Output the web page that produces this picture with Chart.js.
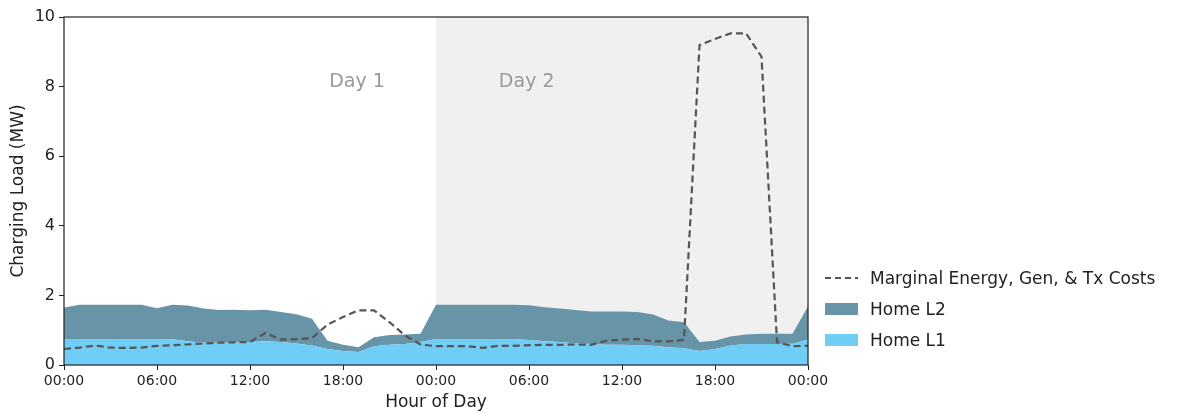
<!DOCTYPE html>
<html>
<head>
<meta charset="utf-8">
<script src="https://cdn.jsdelivr.net/npm/chart.js@4/dist/chart.umd.min.js"></script>
<style>
  html, body { margin: 0; padding: 0; background: #fff; }
  #wrap { position: relative; width: 1192px; height: 414px; }
  #legend { position: absolute; left: 825px; top: 262px; font-family: "DejaVu Sans"; font-size: 17px; color: #222; }
  .row { display: flex; align-items: center; height: 31px; white-space: nowrap; }
  .sym { width: 33px; margin-right: 12px; display: flex; align-items: center; }
</style>
</head>
<body>
<div id="wrap">
  <canvas id="c" width="1192" height="414"></canvas>
  <div id="legend"></div>
</div>
<script>
// Hour index across the two days (0 = Day 1 00:00, 48 = Day 3 00:00)
const hours = [0,1,2,3,4,5,6,7,8,9,10,11,12,13,14,15,16,17,18,19,20,21,22,23,24,
               25,26,27,28,29,30,31,32,33,34,35,36,37,38,39,40,41,42,43,44,45,46,47,48];

// Home L1 charging load (MW)
const homeL1 = [0.75,0.75,0.75,0.75,0.75,0.75,0.75,0.74,0.68,0.64,0.64,0.64,0.66,0.68,0.66,0.62,0.56,0.46,0.40,0.37,0.54,0.58,0.60,0.66,0.75,
                0.75,0.75,0.75,0.75,0.75,0.72,0.68,0.66,0.62,0.60,0.58,0.58,0.57,0.55,0.51,0.48,0.40,0.46,0.56,0.60,0.60,0.60,0.61,0.73];

// Home L2 charging load (MW), stacked on top of L1
const homeL2 = [0.90,0.98,0.98,0.98,0.98,0.98,0.88,0.99,1.03,0.98,0.94,0.95,0.91,0.91,0.86,0.84,0.77,0.24,0.18,0.14,0.26,0.28,0.28,0.24,0.98,
                0.98,0.98,0.98,0.98,0.98,1.00,0.98,0.96,0.96,0.94,0.96,0.96,0.95,0.90,0.77,0.75,0.26,0.24,0.26,0.28,0.30,0.30,0.29,0.95];

// Total load under the marginal energy, generation & transmission cost signal (MW)
const marginalCost = [0.46,0.50,0.56,0.50,0.49,0.50,0.55,0.57,0.59,0.62,0.64,0.65,0.66,0.92,0.73,0.74,0.77,1.16,1.38,1.57,1.57,1.23,0.85,0.59,0.54,
                      0.54,0.54,0.49,0.55,0.55,0.57,0.58,0.58,0.59,0.58,0.70,0.73,0.75,0.68,0.68,0.72,9.19,9.37,9.53,9.53,8.86,0.66,0.54,0.55];

const xTicks = [0, 6, 12, 18, 24, 30, 36, 42, 48];
const yTicks = [0, 2, 4, 6, 8, 10];
const dayLabels = ['Day 1', 'Day 2'];

const COLOR_L1 = '#70cdf6';
const COLOR_L2 = '#6894a7';
const COLOR_COST = '#555555';
const FONT = 'DejaVu Sans';

const toPoints = vals => hours.map((h, i) => ({ x: h, y: vals[i] }));

// Shaded second day, day captions and the axes frame
const decor = {
  id: 'decor',
  beforeDatasetsDraw(chart) {
    const { ctx, chartArea: a, scales: { x } } = chart;
    ctx.save();
    ctx.fillStyle = '#f0f0f0';
    const x0 = x.getPixelForValue(24);
    ctx.fillRect(x0, a.top, a.right - x0, a.bottom - a.top);
    ctx.fillStyle = '#999999';
    ctx.font = '19px "' + FONT + '"';
    ctx.textAlign = 'center';
    ctx.textBaseline = 'middle';
    const yl = chart.scales.y.getPixelForValue(8.14);
    ctx.fillText(dayLabels[0], x.getPixelForValue(18.9), yl);
    ctx.fillText(dayLabels[1], x.getPixelForValue(29.85), yl);
    ctx.restore();
  },
  afterDraw(chart) {
    const { ctx, chartArea: a } = chart;
    ctx.save();
    ctx.strokeStyle = '#222';
    ctx.lineWidth = 1.2;
    ctx.strokeRect(a.left, a.top, a.right - a.left, a.bottom - a.top);
    ctx.restore();
  }
};

const chart = new Chart(document.getElementById('c'), {
  type: 'line',
  data: {
    datasets: [
      {
        label: 'Marginal Energy, Gen, & Tx Costs',
        data: toPoints(marginalCost),
        stack: 'cost',
        borderColor: COLOR_COST,
        borderWidth: 2.2,
        borderDash: [7, 4],
        pointRadius: 0,
        fill: false,
        tension: 0
      },
      {
        label: 'Home L1',
        data: toPoints(homeL1),
        stack: 'load',
        borderWidth: 0,
        borderColor: COLOR_L1,
        backgroundColor: COLOR_L1,
        pointRadius: 0,
        fill: 'origin',
        tension: 0
      },
      {
        label: 'Home L2',
        data: toPoints(homeL2),
        stack: 'load',
        borderWidth: 0,
        borderColor: COLOR_L2,
        backgroundColor: COLOR_L2,
        pointRadius: 0,
        fill: '-1',
        tension: 0
      }
    ]
  },
  options: {
    responsive: false,
    animation: false,
    events: [],
    layout: { padding: { top: 17, right: 384, left: 0, bottom: 0 } },
    plugins: { legend: { display: false }, tooltip: { enabled: false } },
    scales: {
      x: {
        type: 'linear',
        min: 0, max: 48,
        afterBuildTicks: s => { s.ticks = xTicks.map(v => ({ value: v })); },
        afterFit: s => { s.height = 49; },
        grid: { display: true, drawOnChartArea: false, drawTicks: true, tickLength: 5, color: '#222' },
        border: { display: false },
        ticks: {
          color: '#222', padding: 3,
          font: { family: FONT, size: 14 },
          maxRotation: 0,
          callback: v => String(v % 24).padStart(2, '0') + ':00'
        },
        title: { display: true, text: 'Hour of Day', color: '#222', font: { family: FONT, size: 17 }, padding: { top: 0, bottom: 1 } }
      },
      y: {
        stacked: true,
        min: 0, max: 10,
        afterBuildTicks: s => { s.ticks = yTicks.map(v => ({ value: v })); },
        afterFit: s => { s.width = 64; },
        grid: { display: true, drawOnChartArea: false, drawTicks: true, tickLength: 5, color: '#222' },
        border: { display: false },
        ticks: { color: '#222', padding: 4, font: { family: FONT, size: 16 } },
        title: { display: true, text: 'Charging Load (MW)', color: '#222', font: { family: FONT, size: 17 }, padding: { top: 8, bottom: 0 } }
      }
    }
  },
  plugins: [decor]
});

// Legend: cost line first, then the stacked loads from top to bottom
const legendEl = document.getElementById('legend');
const legendOrder = [0, 2, 1];
legendOrder.forEach(i => {
  const ds = chart.data.datasets[i];
  const row = document.createElement('div');
  row.className = 'row';
  const sym = document.createElement('div');
  sym.className = 'sym';
  if (i === 0) {
    sym.innerHTML = '<svg width="33" height="4"><line x1="0" y1="2" x2="33" y2="2" stroke="' + COLOR_COST + '" stroke-width="2" stroke-dasharray="6,4"/></svg>';
  } else {
    sym.innerHTML = '<div style="width:33px;height:12px;background:' + ds.backgroundColor + '"></div>';
  }
  const txt = document.createElement('span');
  txt.textContent = ds.label;
  row.appendChild(sym);
  row.appendChild(txt);
  legendEl.appendChild(row);
});
</script>
</body>
</html>
